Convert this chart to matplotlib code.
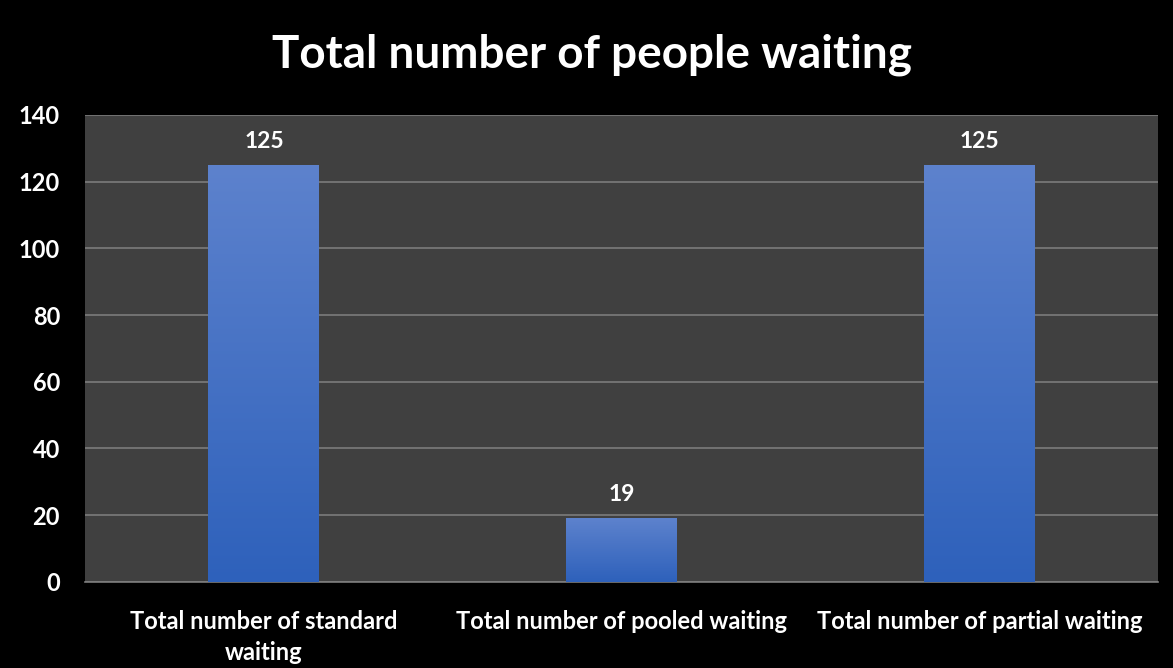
import matplotlib.pyplot as plt
import numpy as np
from matplotlib.colors import LinearSegmentedColormap

# dados do grafico
categorias = ["Total number of standard\nwaiting", "Total number of pooled waiting", "Total number of partial waiting"]
valores = [125, 19, 125]
titulo = "Total number of people waiting"

plt.rcParams['font.family'] = ['Lato', 'DejaVu Sans']

fig = plt.figure(figsize=(11.73, 6.68), dpi=100, facecolor='black')
ax = fig.add_axes([0.0725, 0.129, 0.915, 0.699])
ax.set_facecolor('#404040')

x = np.arange(len(categorias))
largura = 0.31
barras = ax.bar(x, valores, width=largura, color='none', zorder=3)

# gradiente azul em cada barra
cmap = LinearSegmentedColormap.from_list('azul', ['#2e61bb', '#5d82cd'])
grad = np.linspace(0, 1, 256).reshape(-1, 1)
for b in barras:
    x0, y0 = b.get_x(), b.get_y()
    w, h = b.get_width(), b.get_height()
    ax.imshow(grad, cmap=cmap, origin='lower', aspect='auto',
              extent=(x0, x0 + w, y0, y0 + h), zorder=3)
    ax.text(x0 + w / 2, h + 4, str(int(h)), ha='center', va='bottom',
            color='white', fontsize=16.5, fontweight='bold', zorder=4)

ax.set_xlim(-0.5, len(categorias) - 0.5)
ax.set_ylim(0, 140)
ax.set_yticks(np.arange(0, 141, 20))
ax.grid(axis='y', color='#7c7c7c', linewidth=1.2, zorder=1)
ax.set_axisbelow(True)
for s in ax.spines.values():
    s.set_visible(False)
ax.spines['bottom'].set_visible(True)
ax.spines['bottom'].set_color('#7c7c7c')
ax.spines['bottom'].set_linewidth(1.2)

ax.set_xticks(x)
ax.set_xticklabels(categorias, color='white', fontsize=17, fontweight='bold', linespacing=1.45)
ax.tick_params(axis='y', colors='white', labelsize=17, length=0, pad=18)
ax.tick_params(axis='x', length=0, pad=20)
for t in ax.get_yticklabels():
    t.set_fontweight('bold')

fig.text(0.505, 0.918, titulo, ha='center', va='center', color='white',
         fontsize=33, fontweight='bold')

fig.savefig('out.png', dpi=100, facecolor='black')
